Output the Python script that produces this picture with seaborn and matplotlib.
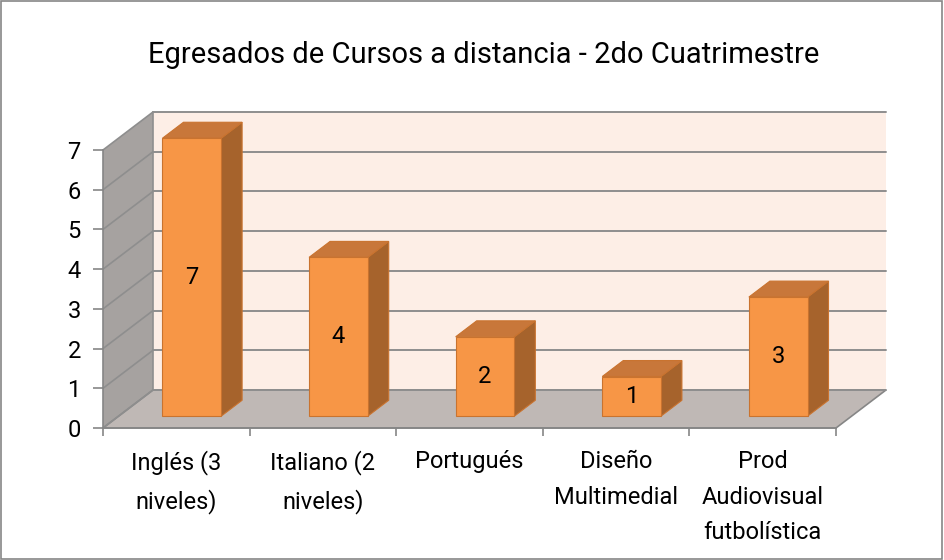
import matplotlib
matplotlib.use("Agg")
import matplotlib.pyplot as plt
from matplotlib.patches import Polygon, Rectangle
import seaborn as sns
import pandas as pd

# data
categories = ["Inglés (3\nniveles)", "Italiano (2\nniveles)", "Portugués",
              "Diseño\nMultimedial", "Prod\nAudiovisual\nfutbolística"]
egresados = [7, 4, 2, 1, 3]
y_ticks = [0, 1, 2, 3, 4, 5, 6, 7]
title = "Egresados de Cursos a distancia - 2do Cuatrimestre"

# colours (Excel-ish 3D look)
FRONT = "#F79646"
TOP = "#C8773A"
SIDE = "#A6632C"
EDGE = "#C9732F"
WALL = "#FDEEE6"
FLOOR = "#BFB8B5"
SIDEWALL = "#A6A2A0"
GRID = "#8E8E8E"
AXIS = "#868686"

# depth of the 3D box in data units, and where the bars sit inside it
DX, DY = 0.341, 0.957
D0, D1 = 0.31, 0.73

sns.set_theme(style="white")
plt.rcParams["font.family"] = ["Roboto", "DejaVu Sans"]

df = pd.DataFrame({"curso": categories, "egresados": egresados})

fig = plt.figure(figsize=(9.44, 5.6), dpi=100)
ax = fig.add_axes([103 / 944, 132 / 560, 733 / 944, 278 / 560])

sns.barplot(data=df, x="curso", y="egresados", color=FRONT, width=0.4,
            saturation=1, ax=ax, zorder=4)
bars = list(ax.patches)

n = len(categories)
x_lo, x_hi = -0.5, n - 0.5
y_top = max(y_ticks)

# back wall, left wall and floor
ax.add_patch(Polygon([(x_lo + DX, DY), (x_hi + DX, DY), (x_hi + DX, y_top + DY),
                      (x_lo + DX, y_top + DY)], closed=True, facecolor=WALL,
                     edgecolor="none", zorder=0, clip_on=False))
ax.add_patch(Polygon([(x_lo, 0), (x_lo + DX, DY), (x_lo + DX, y_top + DY), (x_lo, y_top)],
                     closed=True, facecolor=SIDEWALL, edgecolor="none", zorder=0, clip_on=False))
ax.add_patch(Polygon([(x_lo, 0), (x_hi, 0), (x_hi + DX, DY), (x_lo + DX, DY)],
                     closed=True, facecolor=FLOOR, edgecolor=AXIS, lw=1.2, zorder=1, clip_on=False))

for v in y_ticks:
    ax.plot([x_lo + DX, x_hi + DX], [v + DY, v + DY], color=GRID, lw=1.4, zorder=2, clip_on=False)
    ax.plot([x_lo, x_lo + DX], [v, v + DY], color=GRID, lw=1.2, zorder=2, clip_on=False)
ax.plot([x_lo + DX, x_lo + DX], [DY, y_top + DY], color=GRID, lw=1.2, zorder=2, clip_on=False)

# turn the flat bars into boxes
for p, v in zip(bars, egresados):
    p.set_x(p.get_x() + D0 * DX)
    p.set_y(D0 * DY)
    p.set_edgecolor(EDGE)
    p.set_linewidth(0.8)
    p.set_clip_on(False)
    xl = p.get_x()
    xr = xl + p.get_width()
    dd = (D1 - D0) * DX
    side = [(xr, D0 * DY), (xr + dd, D1 * DY), (xr + dd, v + D1 * DY), (xr, v + D0 * DY)]
    top = [(xl, v + D0 * DY), (xr, v + D0 * DY), (xr + dd, v + D1 * DY), (xl + dd, v + D1 * DY)]
    ax.add_patch(Polygon(side, closed=True, facecolor=SIDE, edgecolor=EDGE, lw=0.8,
                         zorder=3, clip_on=False))
    ax.add_patch(Polygon(top, closed=True, facecolor=TOP, edgecolor=EDGE, lw=0.8,
                         zorder=3, clip_on=False))
    ax.text((xl + xr) / 2, D0 * DY + v / 2, str(v), ha="center", va="center",
            fontsize=17, color="black", zorder=5)

ax.set_xlim(x_lo, x_hi)
ax.set_ylim(0, y_top)
ax.set_xlabel("")
ax.set_ylabel("")
ax.set_yticks(y_ticks)
ax.set_xticks(range(n))
ax.set_xticklabels(categories, linespacing=1.7, va="top")
ax.set_xticks([i - 0.5 for i in range(n + 1)], minor=True)
ax.tick_params(axis="x", which="major", length=0, pad=16, labelsize=17, labelcolor="black")
ax.tick_params(axis="x", which="minor", length=6, width=1.2, color=AXIS, direction="out",
               bottom=True)
ax.tick_params(axis="y", length=7, width=1.2, color=AXIS, pad=9, labelsize=17,
               labelcolor="black", left=True, direction="out")
for s in ["top", "right"]:
    ax.spines[s].set_visible(False)
for s in ["left", "bottom"]:
    ax.spines[s].set_color(AXIS)
    ax.spines[s].set_linewidth(1.2)
    ax.spines[s].set_zorder(6)
ax.patch.set_visible(False)

fig.text(484 / 944, 1 - 55 / 560, title, ha="center", va="center", fontsize=21, color="black")
fig.add_artist(Rectangle((0.001, 0.002), 0.997, 0.996, transform=fig.transFigure,
                         fill=False, edgecolor=AXIS, lw=1.2))

fig.savefig("out.png", dpi=100)
